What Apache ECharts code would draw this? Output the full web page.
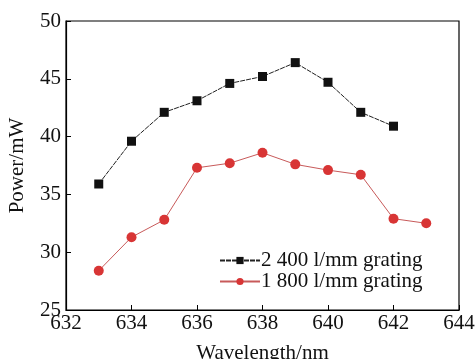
<!DOCTYPE html>
<html>
<head>
<meta charset="utf-8">
<script src="https://cdn.jsdelivr.net/npm/echarts@6/dist/echarts.min.js"></script>
<style>
  html,body{margin:0;padding:0;background:#fff;}
  #chart{width:476px;height:359px;}
</style>
</head>
<body>
<div id="chart"></div>
<script>
var wavelength2400=[633,634,635,636,637,638,639,640,641,642];
var power2400=[35.9,39.6,42.1,43.1,44.6,45.2,46.4,44.7,42.1,40.9];
var wavelength1800=[633,634,635,636,637,638,639,640,641,642,643];
var power1800=[28.4,31.3,32.8,37.3,37.7,38.6,37.6,37.1,36.7,32.9,32.5];
var seriesNames=['2 400 l/mm grating','1 800 l/mm grating'];

function pairs(xs,ys){
    var out=[];
    for(var i=0;i<xs.length;i++){
        out.push([xs[i],ys[i]]);
    }
    return out;
}

var fontName='Liberation Serif';
var myChart=echarts.init(document.getElementById('chart'));
myChart.setOption({
    animation:false,
    backgroundColor:'#fff',
    grid:{left:66,right:17,top:21,bottom:49,show:true,borderColor:'#000',borderWidth:1.2,
        containLabel:false,outerBoundsMode:'none'},
    legend:{
        orient:'vertical',
        left:214,
        top:245,
        itemWidth:40,
        itemHeight:9,
        itemGap:0,
        textStyle:{fontFamily:fontName,fontSize:21,lineHeight:20,color:'#111',padding:[0,0,0,-4]},
        data:seriesNames
    },
    xAxis:{
        type:'value',
        min:632,max:644,interval:2,
        name:'Wavelength/nm',nameLocation:'middle',nameGap:33,
        nameTextStyle:{fontFamily:fontName,fontSize:21,color:'#111'},
        axisLine:{lineStyle:{color:'#000',width:1.2}},
        axisTick:{inside:true,length:5,lineStyle:{color:'#000'}},
        axisLabel:{fontFamily:fontName,fontSize:21,color:'#111',margin:3},
        splitLine:{show:false}
    },
    yAxis:{
        type:'value',
        min:25,max:50,interval:5,
        name:'Power/mW',nameLocation:'middle',nameGap:38,
        nameTextStyle:{fontFamily:fontName,fontSize:21,color:'#111'},
        axisLine:{show:true,lineStyle:{color:'#000',width:1.2}},
        axisTick:{show:true,inside:true,length:5,lineStyle:{color:'#000'}},
        axisLabel:{fontFamily:fontName,fontSize:21,color:'#111',margin:5},
        splitLine:{show:false}
    },
    series:[
        {
            name:seriesNames[0],
            type:'line',
            data:pairs(wavelength2400,power2400),
            symbol:'rect',symbolSize:9,
            itemStyle:{color:'#111'},
            lineStyle:{color:'#222',width:1,type:[5,1]}
        },
        {
            name:seriesNames[1],
            type:'line',
            data:pairs(wavelength1800,power1800),
            symbol:'circle',symbolSize:10,
            itemStyle:{color:'#d83535'},
            lineStyle:{color:'#c85a5a',width:1}
        }
    ]
});
</script>
</body>
</html>
